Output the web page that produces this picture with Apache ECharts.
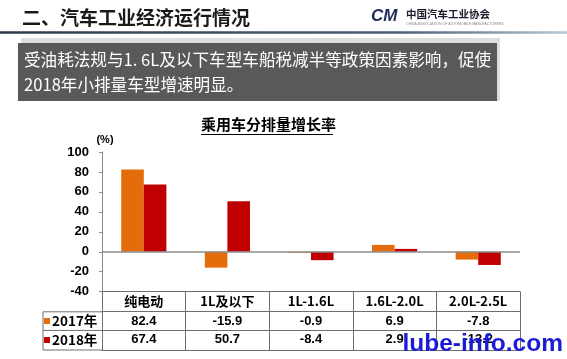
<!DOCTYPE html>
<html>
<head>
<meta charset="utf-8">
<script src="https://cdn.jsdelivr.net/npm/echarts@6/dist/echarts.min.js"></script>
<style>
html,body{margin:0;padding:0;background:#fff;}
#main{width:567px;height:359px;}
</style>
</head>
<body>
<div id="main"></div>
<script>
const categories = ['纯电动', '1L及以下', '1L-1.6L', '1.6L-2.0L', '2.0L-2.5L'];
const seriesNames = ['2017年', '2018年'];
const values2017 = [82.4, -15.9, -0.9, 6.9, -7.8];
const values2018 = [67.4, 50.7, -8.4, 2.9, -13.2];
const yMin = -40, yMax = 100, yStep = 20;

const slideTitle = '二、汽车工业经济运行情况';
const noteLines = ['受油耗法规与1. 6L及以下车型车船税减半等政策因素影响，促使', '2018年小排量车型增速明显。'];
const chartTitle = '乘用车分排量增长率';
const unitLabel = '(%)';
const watermark = 'lube-info.com';

const LAT = 'Arial, "Liberation Sans", sans-serif';
const CJK = '"Noto Sans CJK SC", Arial, "Liberation Sans", sans-serif';
const COLORS = ['#E46C0A', '#C00000'];
const tableLine = '#6e6e6e';

const chart = echarts.init(document.getElementById('main'), null, {renderer: 'canvas'});

const cellLabel = {interval: 0, fontSize: 13, fontWeight: 'bold', color: '#000', fontFamily: CJK, margin: 3};

const option = {
  backgroundColor: '#fff',
  animation: false,
  color: COLORS,
  grid: {left: 102, right: 47, top: 152, bottom: 67.3, containLabel: false},
  legend: {
    data: seriesNames, orient: 'vertical', left: 44, top: 314, padding: 0,
    itemWidth: 6, itemHeight: 6, itemGap: 5, icon: 'rect',
    textStyle: {fontSize: 13.5, fontWeight: 'bold', color: '#000', fontFamily: CJK, padding: [0, 0, 0, -3], lineHeight: 14}
  },
  xAxis: [
    {type: 'category', data: categories, position: 'bottom', offset: 0,
     axisLine: {onZero: false, lineStyle: {color: tableLine, width: 1}},
     axisTick: {show: true, interval: 0, length: 58.3, lineStyle: {color: tableLine, width: 1}},
     axisLabel: cellLabel},
    {type: 'category', data: categories, position: 'bottom', offset: 20,
     axisLine: {onZero: false, lineStyle: {color: tableLine, width: 1}},
     axisTick: {show: false},
     axisLabel: Object.assign({}, cellLabel, {formatter: (v, i) => values2017[i].toFixed(1), fontFamily: LAT})},
    {type: 'category', data: categories, position: 'bottom', offset: 38.6,
     axisLine: {onZero: false, lineStyle: {color: tableLine, width: 1}},
     axisTick: {show: false},
     axisLabel: Object.assign({}, cellLabel, {formatter: (v, i) => values2018[i].toFixed(1), fontFamily: LAT})},
    {type: 'category', data: categories, position: 'bottom', offset: 58.3,
     axisLine: {onZero: false, lineStyle: {color: tableLine, width: 1}},
     axisTick: {show: false}, axisLabel: {show: false}}
  ],
  yAxis: {
    type: 'value', min: yMin, max: yMax, interval: yStep,
    name: unitLabel, nameLocation: 'end', nameGap: 7,
    nameTextStyle: {fontSize: 11, fontWeight: 'bold', color: '#000', fontFamily: LAT, align: 'center', padding: [0, 0, 0, 6]},
    axisLine: {show: true, lineStyle: {color: '#8c8c8c', width: 1}},
    axisTick: {show: true, length: 3, lineStyle: {color: '#8c8c8c'}},
    axisLabel: {fontSize: 13, fontWeight: 'bold', color: '#000', fontFamily: LAT, margin: 13},
    splitLine: {show: false}
  },
  series: [
    {name: seriesNames[0], type: 'bar', data: values2017, xAxisIndex: 0,
     barCategoryGap: '46%', barGap: '0%', itemStyle: {color: COLORS[0]},
     markLine: {silent: true, symbol: ['none', 'none'], label: {show: false},
       lineStyle: {color: '#8c8c8c', type: 'solid', width: 1.5}, data: [{yAxis: 0}]}},
    {name: seriesNames[1], type: 'bar', data: values2018, xAxisIndex: 0,
     barCategoryGap: '46%', barGap: '0%', itemStyle: {color: COLORS[1]}}
  ],
  graphic: [
    {type: 'text', left: 22, top: 8, style: {text: slideTitle, font: 'bold 19px ' + CJK, fill: '#1a1a1a'}},
    {type: 'line', shape: {x1: 0, y1: 32.5, x2: 567, y2: 32.5},
     style: {lineWidth: 2.5, stroke: new echarts.graphic.LinearGradient(0, 0, 1, 0, [
       {offset: 0, color: '#2e3a48'}, {offset: 0.7, color: '#4a5e72'}, {offset: 1, color: '#b7cad8'}])}},
    {type: 'text', left: 371, top: 8, style: {text: 'CM', font: 'italic bold 17px ' + LAT, fill: '#1f2d5c'}},
    {type: 'text', left: 406, top: 9, style: {text: '中国汽车工业协会', font: 'bold 10.5px ' + CJK, fill: '#1a1a2a'}},
    {type: 'text', left: 406, top: 22, style: {text: 'CHINA ASSOCIATION OF AUTOMOBILE MANUFACTURERS', font: '3.5px ' + LAT, fill: '#888'}},
    {type: 'rect', shape: {x: 21, y: 38, width: 479, height: 63}, style: {fill: '#dedede'}},
    {type: 'rect', shape: {x: 18, y: 43, width: 479, height: 58}, style: {fill: '#595959'}},
    {type: 'text', left: 24, top: 51, style: {text: noteLines[0], font: '16.6px ' + CJK, fill: '#fff'}},
    {type: 'text', left: 24, top: 76, style: {text: noteLines[1], font: '16.6px ' + CJK, fill: '#fff'}},
    {type: 'text', left: 201, top: 117, style: {text: chartTitle, font: 'bold 15px ' + CJK, fill: '#000'}},
    {type: 'line', shape: {x1: 201, y1: 134.5, x2: 333, y2: 134.5}, style: {stroke: '#000', lineWidth: 1}},
    {type: 'line', shape: {x1: 43, y1: 311.8, x2: 102, y2: 311.8}, style: {stroke: tableLine, lineWidth: 1}},
    {type: 'line', shape: {x1: 43, y1: 330.4, x2: 102, y2: 330.4}, style: {stroke: tableLine, lineWidth: 1}},
    {type: 'line', shape: {x1: 43, y1: 350, x2: 102, y2: 350}, style: {stroke: tableLine, lineWidth: 1}},
    {type: 'line', shape: {x1: 43, y1: 311.8, x2: 43, y2: 350}, style: {stroke: tableLine, lineWidth: 1}},
    {type: 'text', right: 4, top: 332, z: 100, style: {text: watermark, font: 'bold 24.5px ' + LAT, fill: '#1c1cd8'}}
  ]
};
chart.setOption(option);
</script>
</body>
</html>
